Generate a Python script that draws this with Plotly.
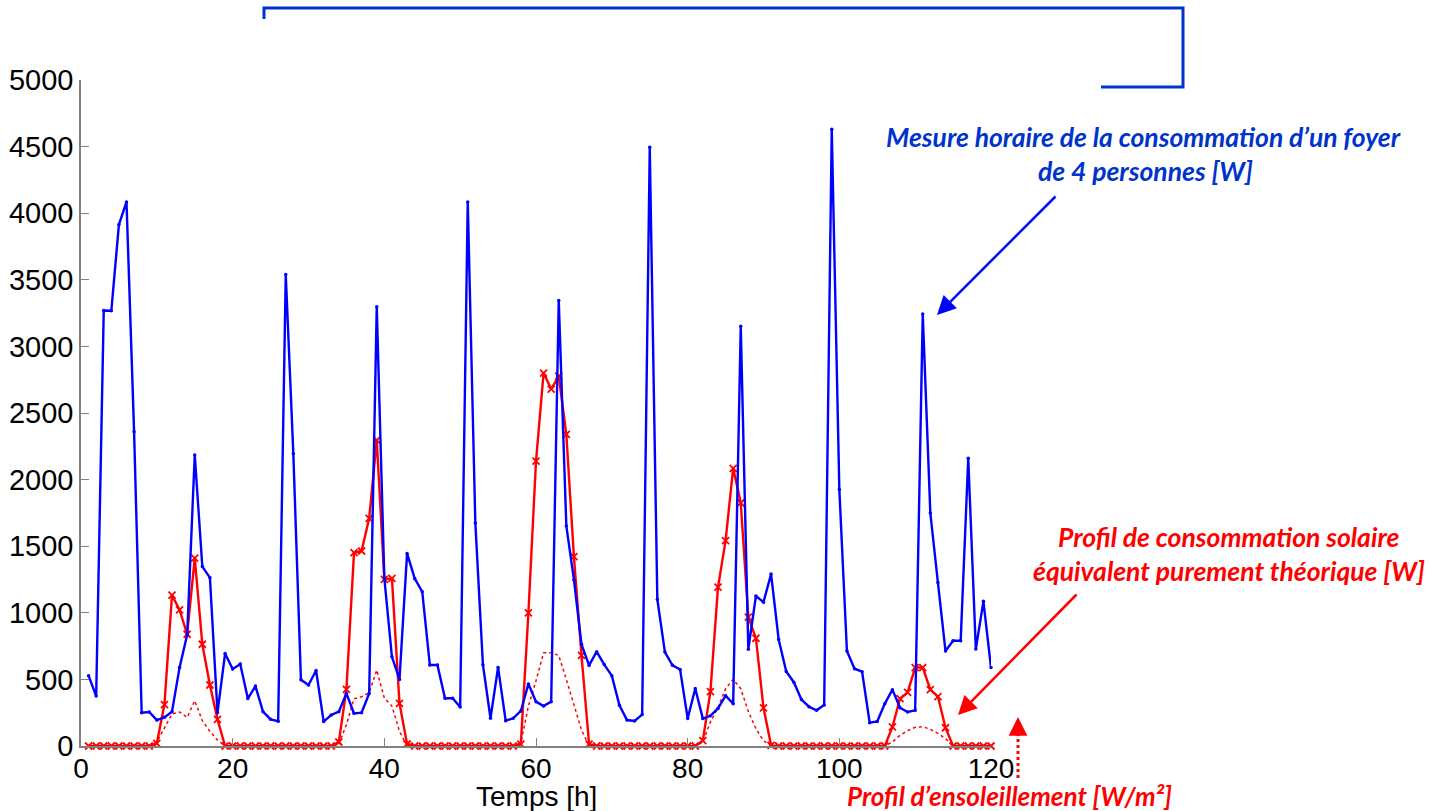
import plotly.graph_objects as go

hours = list(range(1, 121))

consommation_foyer = [
    528, 375, 3270, 3268, 3915, 4085, 2360, 250, 255, 195,
    215, 258, 590, 835, 2185, 1347, 1264, 250, 694, 578,
    615, 356, 450, 258, 200, 186, 3540, 2195, 497, 458,
    567, 183, 233, 258, 395, 245, 250, 395, 3298, 1260,
    670, 500, 1446, 1258, 1158, 608, 608, 358, 358, 293,
    4085, 1675, 610, 208, 590, 190, 208, 263, 466, 333,
    300, 333, 3345, 1652, 1249, 763, 605, 708, 611, 528,
    306, 195, 188, 236, 4495, 1100, 705, 606, 575, 207,
    432, 206, 227, 282, 378, 318, 3152, 727, 1126, 1080,
    1291, 800, 560, 479, 349, 295, 268, 308, 4630, 1926,
    713, 580, 558, 175, 184, 318, 423, 287, 255, 268,
    3243, 1749, 1227, 713, 790, 790, 2160, 728, 1086, 589,
]

consommation_solaire = [
    0, 0, 0, 0, 0, 0, 0, 0, 0, 20,
    311, 1133, 1022, 839, 1411, 764, 458, 200, 0, 0,
    0, 0, 0, 0, 0, 0, 0, 0, 0, 0,
    0, 0, 0, 30, 425, 1451, 1464, 1709, 2297, 1251,
    1258, 320, 15, 0, 0, 0, 0, 0, 0, 0,
    0, 0, 0, 0, 0, 0, 0, 14, 1000, 2138,
    2800, 2680, 2777, 2339, 1422, 680, 14, 0, 0, 0,
    0, 0, 0, 0, 0, 0, 0, 0, 0, 0,
    0, 40, 408, 1192, 1542, 2085, 1826, 968, 809, 287,
    5, 0, 0, 0, 0, 0, 0, 0, 0, 0,
    0, 0, 0, 0, 0, 0, 143, 355, 402, 589,
    589, 423, 371, 137, 0, 0, 0, 0, 0, 0,
]

ensoleillement = [
    0, 0, 0, 0, 0, 0, 0, 0, 0, 30,
    140, 240, 255, 215, 340, 190, 110, 45, 0, 0,
    0, 0, 0, 0, 0, 0, 0, 0, 0, 0,
    0, 0, 0, 15, 160, 355, 370, 400, 570, 360,
    300, 110, 0, 0, 0, 0, 0, 0, 0, 0,
    0, 0, 0, 0, 0, 0, 0, 25, 300, 490,
    700, 700, 680, 500, 300, 120, 0, 0, 0, 0,
    0, 0, 0, 0, 0, 0, 0, 0, 0, 0,
    0, 30, 180, 290, 430, 500, 430, 260, 130, 40,
    0, 0, 0, 0, 0, 0, 0, 0, 0, 0,
    0, 0, 0, 0, 0, 0, 30, 80, 115, 140,
    145, 125, 95, 55, 0, 0, 0, 0, 0, 0,
]

x_ticks = [0, 20, 40, 60, 80, 100, 120]
y_ticks = [0, 500, 1000, 1500, 2000, 2500, 3000, 3500, 4000, 4500, 5000]

BLUE = "#0000FF"
RED = "#FF0000"
TXT_BLUE = "#0033CC"

fig = go.Figure()
fig.add_trace(go.Scatter(
    x=hours, y=ensoleillement, mode="lines",
    line=dict(color=RED, width=1.5, dash="dot"), cliponaxis=False,
))
fig.add_trace(go.Scatter(
    x=hours, y=consommation_solaire, mode="lines+markers",
    line=dict(color=RED, width=2.4),
    marker=dict(symbol="x-thin", size=7, line=dict(color=RED, width=1.8)),
    cliponaxis=False,
))
fig.add_trace(go.Scatter(
    x=hours, y=consommation_foyer, mode="lines+markers",
    line=dict(color=BLUE, width=2.4),
    marker=dict(symbol="circle", size=3.5, color=BLUE),
    cliponaxis=False,
))

L, R, T, B = 81, 991, 80, 746
PW, PH = R - L, B - T


def px(xp):
    return (xp - L) / PW


def py(yp):
    return (B - yp) / PH


shapes = [
    dict(type="path", xref="paper", yref="paper",
         path=f"M {px(264)},{py(19)} L {px(264)},{py(8)} L {px(1183)},{py(8)} "
              f"L {px(1183)},{py(87)} L {px(1101)},{py(87)}",
         line=dict(color=TXT_BLUE, width=3)),
    dict(type="line", xref="paper", yref="paper",
         x0=px(1018), x1=px(1018), y0=py(778), y1=py(730),
         line=dict(color=RED, width=3, dash="dot")),
]

TF = "Lato"
FS = 26.5
annotations = [
    dict(text="<b><i>Mesure horaire de la consommation d’un foyer</i></b>",
         xref="paper", yref="paper", x=px(1143), y=py(137), showarrow=False,
         font=dict(family=TF, size=FS, color=TXT_BLUE), xanchor="center", yanchor="middle"),
    dict(text="<b><i>de 4 personnes [W]</i></b>",
         xref="paper", yref="paper", x=px(1145), y=py(171), showarrow=False,
         font=dict(family=TF, size=FS, color=TXT_BLUE), xanchor="center", yanchor="middle"),
    dict(text="<b><i>Profil de consommation solaire</i></b>",
         xref="paper", yref="paper", x=px(1228), y=py(537), showarrow=False,
         font=dict(family=TF, size=FS, color=RED), xanchor="center", yanchor="middle"),
    dict(text="<b><i>équivalent purement théorique [W]</i></b>",
         xref="paper", yref="paper", x=px(1229), y=py(571), showarrow=False,
         font=dict(family=TF, size=FS, color=RED), xanchor="center", yanchor="middle"),
    dict(text="<b><i>Profil d’ensoleillement [W/m²]</i></b>",
         xref="paper", yref="paper", x=px(1010), y=py(796), showarrow=False,
         font=dict(family=TF, size=26, color=RED), xanchor="center", yanchor="middle"),
    dict(text="Temps [h]",
         xref="paper", yref="paper", x=px(536), y=py(797), showarrow=False,
         font=dict(family="Liberation Sans", size=28, color="black"),
         xanchor="center", yanchor="middle"),
    # blue arrow
    dict(text="", xref="paper", yref="paper", x=px(937), y=py(315),
         ax=120, ay=-120, showarrow=True, arrowhead=2, arrowsize=1.5,
         arrowwidth=2.5, arrowcolor=BLUE),
    # red arrow
    dict(text="", xref="paper", yref="paper", x=px(958), y=py(715),
         ax=120, ay=-122, showarrow=True, arrowhead=2, arrowsize=1.5,
         arrowwidth=2.5, arrowcolor=RED),
    # red dotted arrow head
    dict(text="", xref="paper", yref="paper", x=px(1018), y=py(717),
         ax=0, ay=14, showarrow=True, arrowhead=2, arrowsize=1.5,
         arrowwidth=2.5, arrowcolor=RED),
]

fig.update_layout(
    width=1431, height=811,
    margin=dict(l=L, r=1431 - R, t=T, b=811 - B, pad=0, autoexpand=False),
    paper_bgcolor="white", plot_bgcolor="white",
    showlegend=False,
    shapes=shapes, annotations=annotations,
    font=dict(family="Liberation Sans", size=28, color="black"),
)
fig.update_xaxes(
    range=[0, 120], tickvals=x_ticks, ticktext=[str(v) for v in x_ticks],
    showgrid=False, zeroline=False, showline=True, linecolor="#808080", linewidth=1.5,
    ticks="inside", ticklen=8, tickcolor="#808080", tickwidth=1.2, automargin=False,
    ticklabelstandoff=-3,
    tickfont=dict(family="Liberation Sans", size=28, color="black"),
)
fig.update_yaxes(
    range=[0, 5000], tickvals=y_ticks, ticktext=[str(v) for v in y_ticks],
    showgrid=False, zeroline=False, showline=True, linecolor="#808080", linewidth=1.5,
    ticks="inside", ticklen=8, tickcolor="#808080", tickwidth=1.2, automargin=False,
    tickfont=dict(family="Liberation Sans", size=29, color="black"),
)

fig.write_html(
    "out.html",
    config={"displayModeBar": False},
    post_script="document.body.style.margin='0';document.body.style.overflow='hidden';",
)
